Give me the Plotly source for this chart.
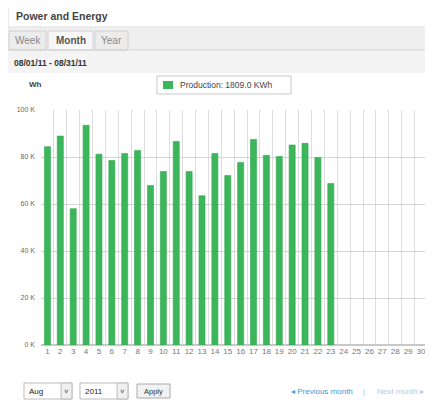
import plotly.graph_objects as go

days = list(range(1, 32))
day_labels = [str(d) for d in days]
production_wh = [84400, 88900, 58000, 93500, 81200, 78500, 81500, 82800, 67900, 73800,
                 86600, 73800, 63500, 81500, 72100, 77700, 87500, 80700, 80200, 85100,
                 85800, 79800, 68700]
y_ticks = [0, 20000, 40000, 60000, 80000, 100000]
y_tick_labels = ["0 K", "20 K", "40 K", "60 K", "80 K", "100 K"]
total_label = "Production: 1809.0 KWh"

OFF = 8  # page body margin
W, H = 433 - OFF, 406 - OFF
PLOT_L, PLOT_T, PLOT_B, PLOT_R = 41, 110, 345, 433  # in page pixels
L, T, B, R = PLOT_L - OFF, PLOT_T - OFF, H - (PLOT_B - OFF), W - (PLOT_R - OFF)
PW, PH = W - L - R, H - T - B
BAR_COLOR = "#3cb65a"


def px(x):
    return (x - PLOT_L) / PW


def py(y):
    return (PLOT_B - y) / PH


FONT = "Liberation Sans, Arial, sans-serif"
fig = go.Figure()
fig.add_trace(go.Bar(
    x=days[:len(production_wh)], y=production_wh, name=total_label,
    marker=dict(color=BAR_COLOR, line=dict(color="#34a851", width=0.6)),
    width=0.47, showlegend=False,
))

shapes = []
ann = []


def rect(x0, x1, y0, y1, fill, line="#d0d0d0", lw=1, layer="below"):
    shapes.append(dict(type="rect", xref="paper", yref="paper", x0=px(x0), x1=px(x1), y0=py(y1), y1=py(y0),
                       line=dict(color=line, width=lw), fillcolor=fill, layer=layer))


def text(t, x, y, size, color, anchor="left"):
    ann.append(dict(text=t, xref="paper", yref="paper", x=px(x), y=py(y), xanchor=anchor, yanchor="middle",
                    showarrow=False, font=dict(size=size, color=color, family=FONT)))


# Header box
rect(8, 440, 5, 27, "#ffffff", "#d8d8d8")
text("<b>Power and Energy</b>", 14, 16, 10.5, "#444")
# Tabs row
rect(8, 440, 28, 50, "#efefef", "#efefef", 0)
shapes.append(dict(type="line", xref="paper", yref="paper", x0=px(8), x1=px(440), y0=py(50), y1=py(50),
                   line=dict(color="#d0d0d0", width=1)))
for x0, x1, label, sel in [(9, 46, "Week", False), (48, 93, "<b>Month</b>", True), (95, 128, "Year", False)]:
    rect(x0, x1, 31, 50, "#f7f7f7" if sel else "#ececec", "#d0d0d0")
    text(label, (x0 + x1) / 2, 41, 10, "#555" if sel else "#888", "center")
# date band
rect(8, 440, 51, 73, "#f4f4f4", "#f4f4f4", 0)
text("<b>08/01/11 - 08/31/11</b>", 12, 63, 8.5, "#333")
text("<b>Wh</b>", 27, 85, 8, "#444")

# custom legend
rect(157, 291, 76, 94, "#ffffff", "#c8c8c8")
rect(163, 173, 81, 89, BAR_COLOR, BAR_COLOR, 0, "above")
text(total_label, 178, 85, 8.5, "#444")

# bottom controls
shapes.append(dict(type="line", xref="paper", yref="paper", x0=px(7), x1=px(7), y0=py(352), y1=py(406),
                   line=dict(color="#dddddd", width=1)))
for x0, x1, label in [(24, 72, "Aug"), (80, 128, "2011")]:
    rect(x0, x1, 383, 399, "#ffffff", "#bbbbbb")
    rect(x1 - 11, x1, 383, 399, "#f0f0f0", "#bbbbbb")
    text(label, x0 + 3, 391, 8, "#222")
    text("˅", x1 - 5.5, 391, 8, "#444", "center")
rect(137, 170, 384, 398, "#f2f2f2", "#aaaaaa")
text("Apply", 153.5, 391, 7.5, "#333", "center")
text("◂ Previous month", 289, 391, 8, "#3b9ad8")
text("|", 364, 391, 8, "#9cc8e8", "center")
text("Next month ▸", 375, 391, 8, "#b5cde0")

fig.update_layout(
    width=W, height=H, margin=dict(l=L, r=R, t=T, b=B, autoexpand=False),
    paper_bgcolor="white", plot_bgcolor="white",
    font=dict(family=FONT, size=8, color="#666"),
    shapes=shapes, annotations=ann,
    xaxis=dict(range=[0.5, 0.5 + PW / 12.88], tickmode="array", tickvals=days, ticktext=day_labels,
               showgrid=False, zeroline=False, showline=False, ticks="", automargin=False,
               tickfont=dict(size=8, color="#777"),
               minor=dict(tick0=0.5, dtick=1, showgrid=True, gridcolor="#dddddd", gridwidth=1, ticks="")),
    yaxis=dict(range=[0, 100000], tickmode="array", tickvals=y_ticks, ticktext=y_tick_labels,
               showgrid=True, gridcolor="#d4d4d4", zeroline=True, zerolinecolor="#c8c8c8",
               showline=False, ticks="", ticklabelstandoff=5, automargin=False,
               tickfont=dict(size=7, color="#666")),
)

fig.write_html("out.html")
